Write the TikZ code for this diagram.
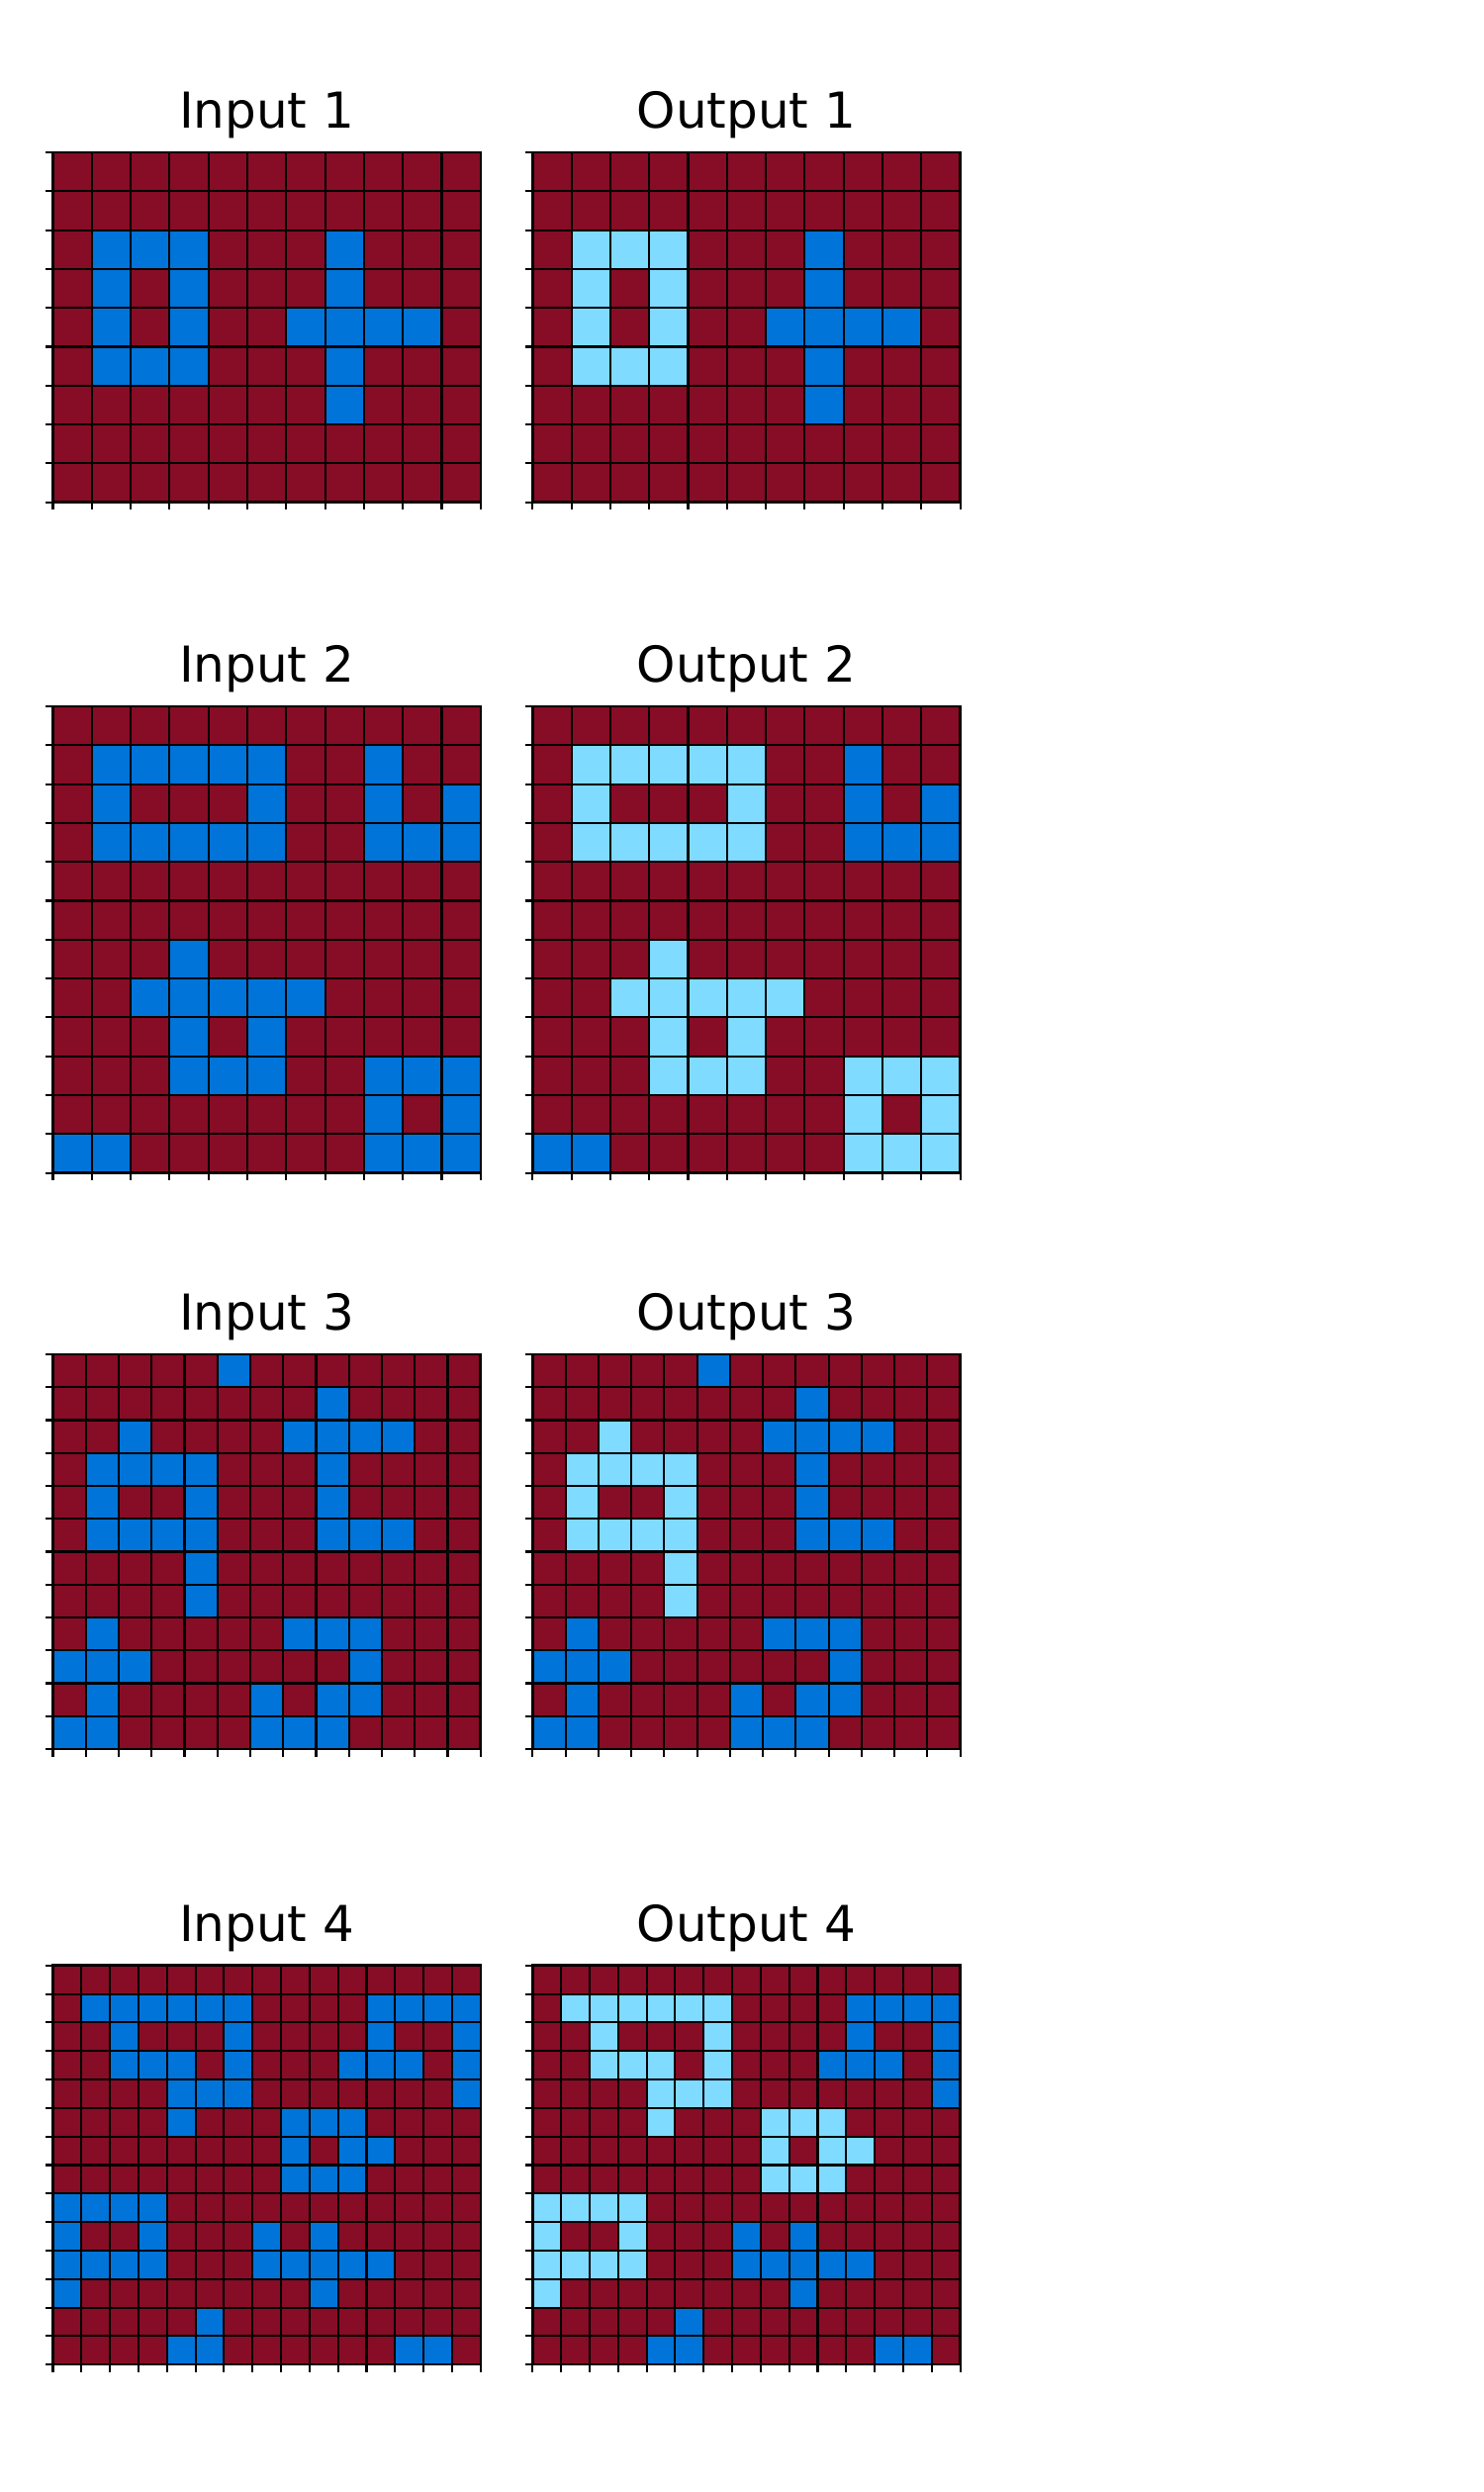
\documentclass[tikz,border=0pt]{standalone}
\usepackage{fontspec}
\setmainfont{DejaVu Sans}
\definecolor{arc0}{HTML}{870C25}
\definecolor{arc1}{HTML}{0074D9}
\definecolor{arc8}{HTML}{7FDBFF}
\usetikzlibrary{positioning}
\tikzset{
  gridtitle/.style={font=\fontsize{12}{14}\selectfont, anchor=base, inner sep=0pt, yshift=5.8pt},
  cellline/.style={line width=0.5pt, black},
  spine/.style={line width=0.6pt, black},
  axtick/.style={line width=0.5pt, black},
}
% #1 corner, #2 title, #3 cell size, #4 columns, #5 rows, #6 cell values
\newcommand{\arcgrid}[6]{%
  \begin{scope}[x=#3, y=-#3, shift={(#1)}]
    \foreach \cells [count=\row from 0] in {#6}{
      \foreach \v [count=\col from 0] in \cells{
        \fill[fill=arc\v] (\col,\row) rectangle ++(1,1);
      }
    }
    \foreach \col in {0,...,#4}{
      \draw[cellline] (\col,0) -- (\col,#5);
      \draw[axtick] (\col,#5) -- ++(0pt,-1.8pt);
    }
    \foreach \row in {0,...,#5}{
      \draw[cellline] (0,\row) -- (#4,\row);
      \draw[axtick] (0,\row) -- ++(-1.8pt,0pt);
    }
    \draw[spine] (0,0) rectangle (#4,#5);
    \node[gridtitle] (t#1) at (#4/2,0) {#2};
  \end{scope}
}

\begin{document}
\begin{tikzpicture}[x=0.24pt, y=-0.24pt]
\useasboundingbox (0,0) rectangle (1500,2519);

% top left corners of the grids
\coordinate (in1)  at (53.5,154);
\coordinate (out1) at (538.3,154);
\coordinate (in2)  at (53.5,714);
\coordinate (out2) at (538.3,714);
\coordinate (in3)  at (53.5,1369);
\coordinate (out3) at (538.3,1369);
\coordinate (in4)  at (53.5,1986.7);
\coordinate (out4) at (538.3,1986.7);

% pair 1
\arcgrid{in1}{Input 1}{9.432pt}{11}{9}{
  {0,0,0,0,0,0,0,0,0,0,0},
  {0,0,0,0,0,0,0,0,0,0,0},
  {0,1,1,1,0,0,0,1,0,0,0},
  {0,1,0,1,0,0,0,1,0,0,0},
  {0,1,0,1,0,0,1,1,1,1,0},
  {0,1,1,1,0,0,0,1,0,0,0},
  {0,0,0,0,0,0,0,1,0,0,0},
  {0,0,0,0,0,0,0,0,0,0,0},
  {0,0,0,0,0,0,0,0,0,0,0}}
\arcgrid{out1}{Output 1}{9.432pt}{11}{9}{
  {0,0,0,0,0,0,0,0,0,0,0},
  {0,0,0,0,0,0,0,0,0,0,0},
  {0,8,8,8,0,0,0,1,0,0,0},
  {0,8,0,8,0,0,0,1,0,0,0},
  {0,8,0,8,0,0,1,1,1,1,0},
  {0,8,8,8,0,0,0,1,0,0,0},
  {0,0,0,0,0,0,0,1,0,0,0},
  {0,0,0,0,0,0,0,0,0,0,0},
  {0,0,0,0,0,0,0,0,0,0,0}}

% pair 2
\arcgrid{in2}{Input 2}{9.432pt}{11}{12}{
  {0,0,0,0,0,0,0,0,0,0,0},
  {0,1,1,1,1,1,0,0,1,0,0},
  {0,1,0,0,0,1,0,0,1,0,1},
  {0,1,1,1,1,1,0,0,1,1,1},
  {0,0,0,0,0,0,0,0,0,0,0},
  {0,0,0,0,0,0,0,0,0,0,0},
  {0,0,0,1,0,0,0,0,0,0,0},
  {0,0,1,1,1,1,1,0,0,0,0},
  {0,0,0,1,0,1,0,0,0,0,0},
  {0,0,0,1,1,1,0,0,1,1,1},
  {0,0,0,0,0,0,0,0,1,0,1},
  {1,1,0,0,0,0,0,0,1,1,1}}
\arcgrid{out2}{Output 2}{9.432pt}{11}{12}{
  {0,0,0,0,0,0,0,0,0,0,0},
  {0,8,8,8,8,8,0,0,1,0,0},
  {0,8,0,0,0,8,0,0,1,0,1},
  {0,8,8,8,8,8,0,0,1,1,1},
  {0,0,0,0,0,0,0,0,0,0,0},
  {0,0,0,0,0,0,0,0,0,0,0},
  {0,0,0,8,0,0,0,0,0,0,0},
  {0,0,8,8,8,8,8,0,0,0,0},
  {0,0,0,8,0,8,0,0,0,0,0},
  {0,0,0,8,8,8,0,0,8,8,8},
  {0,0,0,0,0,0,0,0,8,0,8},
  {1,1,0,0,0,0,0,0,8,8,8}}

% pair 3
\arcgrid{in3}{Input 3}{7.98pt}{13}{12}{
  {0,0,0,0,0,1,0,0,0,0,0,0,0},
  {0,0,0,0,0,0,0,0,1,0,0,0,0},
  {0,0,1,0,0,0,0,1,1,1,1,0,0},
  {0,1,1,1,1,0,0,0,1,0,0,0,0},
  {0,1,0,0,1,0,0,0,1,0,0,0,0},
  {0,1,1,1,1,0,0,0,1,1,1,0,0},
  {0,0,0,0,1,0,0,0,0,0,0,0,0},
  {0,0,0,0,1,0,0,0,0,0,0,0,0},
  {0,1,0,0,0,0,0,1,1,1,0,0,0},
  {1,1,1,0,0,0,0,0,0,1,0,0,0},
  {0,1,0,0,0,0,1,0,1,1,0,0,0},
  {1,1,0,0,0,0,1,1,1,0,0,0,0}}
\arcgrid{out3}{Output 3}{7.98pt}{13}{12}{
  {0,0,0,0,0,1,0,0,0,0,0,0,0},
  {0,0,0,0,0,0,0,0,1,0,0,0,0},
  {0,0,8,0,0,0,0,1,1,1,1,0,0},
  {0,8,8,8,8,0,0,0,1,0,0,0,0},
  {0,8,0,0,8,0,0,0,1,0,0,0,0},
  {0,8,8,8,8,0,0,0,1,1,1,0,0},
  {0,0,0,0,8,0,0,0,0,0,0,0,0},
  {0,0,0,0,8,0,0,0,0,0,0,0,0},
  {0,1,0,0,0,0,0,1,1,1,0,0,0},
  {1,1,1,0,0,0,0,0,0,1,0,0,0},
  {0,1,0,0,0,0,1,0,1,1,0,0,0},
  {1,1,0,0,0,0,1,1,1,0,0,0,0}}

% pair 4
\arcgrid{in4}{Input 4}{6.917pt}{15}{14}{
  {0,0,0,0,0,0,0,0,0,0,0,0,0,0,0},
  {0,1,1,1,1,1,1,0,0,0,0,1,1,1,1},
  {0,0,1,0,0,0,1,0,0,0,0,1,0,0,1},
  {0,0,1,1,1,0,1,0,0,0,1,1,1,0,1},
  {0,0,0,0,1,1,1,0,0,0,0,0,0,0,1},
  {0,0,0,0,1,0,0,0,1,1,1,0,0,0,0},
  {0,0,0,0,0,0,0,0,1,0,1,1,0,0,0},
  {0,0,0,0,0,0,0,0,1,1,1,0,0,0,0},
  {1,1,1,1,0,0,0,0,0,0,0,0,0,0,0},
  {1,0,0,1,0,0,0,1,0,1,0,0,0,0,0},
  {1,1,1,1,0,0,0,1,1,1,1,1,0,0,0},
  {1,0,0,0,0,0,0,0,0,1,0,0,0,0,0},
  {0,0,0,0,0,1,0,0,0,0,0,0,0,0,0},
  {0,0,0,0,1,1,0,0,0,0,0,0,1,1,0}}
\arcgrid{out4}{Output 4}{6.917pt}{15}{14}{
  {0,0,0,0,0,0,0,0,0,0,0,0,0,0,0},
  {0,8,8,8,8,8,8,0,0,0,0,1,1,1,1},
  {0,0,8,0,0,0,8,0,0,0,0,1,0,0,1},
  {0,0,8,8,8,0,8,0,0,0,1,1,1,0,1},
  {0,0,0,0,8,8,8,0,0,0,0,0,0,0,1},
  {0,0,0,0,8,0,0,0,8,8,8,0,0,0,0},
  {0,0,0,0,0,0,0,0,8,0,8,8,0,0,0},
  {0,0,0,0,0,0,0,0,8,8,8,0,0,0,0},
  {8,8,8,8,0,0,0,0,0,0,0,0,0,0,0},
  {8,0,0,8,0,0,0,1,0,1,0,0,0,0,0},
  {8,8,8,8,0,0,0,1,1,1,1,1,0,0,0},
  {8,0,0,0,0,0,0,0,0,1,0,0,0,0,0},
  {0,0,0,0,0,1,0,0,0,0,0,0,0,0,0},
  {0,0,0,0,1,1,0,0,0,0,0,0,1,1,0}}

\end{tikzpicture}
\end{document}
